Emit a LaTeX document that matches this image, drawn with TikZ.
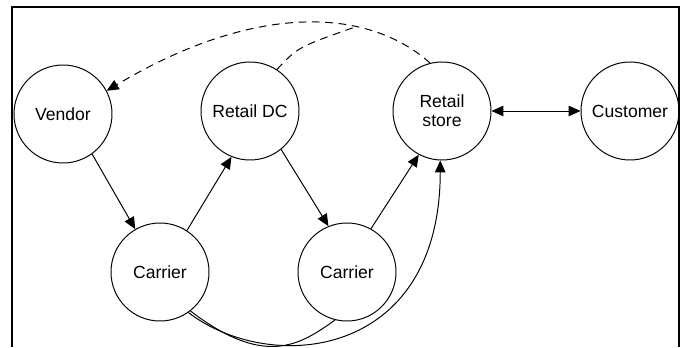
\documentclass[tikz,border=0pt]{standalone}
\usepackage{fontspec}
\setmainfont{Liberation Sans}
\usetikzlibrary{arrows.meta}

\begin{document}
\begin{tikzpicture}[>={Triangle[length=8.5pt,width=7.5pt]}, line width=0.7pt,
        place/.style={draw, circle, minimum size=2.45cm, inner sep=0pt, align=center,
            font=\fontsize{12.5pt}{13.5pt}\selectfont},
        info/.style={dash pattern=on 5.5pt off 4pt}]
        \useasboundingbox (0,0) rectangle (17.075,8.675);
        \clip (0,0) rectangle (17.075,8.675);
        \draw[line width=1.6pt] (0.3,0) -- (0.3,8.5) -- (16.975,8.5) -- (16.975,0);
        % top row
        \node[place] (vendor) at (1.575,5.825) {Vendor};
        \node[place] (retaildc) at (6.25,5.9) {Retail DC};
        \node[place] (store) at (11.05,5.9) {Retail\\store};
        \node[place] (customer) at (15.75,5.9) {Customer};
        % bottom row
        \node[place] (carrierA) at (4.0,1.875) {Carrier};
        \node[place] (carrierB) at (8.675,1.875) {Carrier};
        % goods
        \draw[->] (vendor.-54) -- (carrierA.120);
        \draw[->] (carrierA.57) -- (retaildc.-112);
        \draw[->] (retaildc.-51) -- (carrierB.112);
        \draw[->] (carrierB.61) -- (store.-118);
        \draw[<->] (store.east) -- (customer.west);
        \draw (carrierA.-52) .. controls (6.625,-0.525) and (7.5,0.05) .. (carrierB.-104);
        \draw[->] (carrierA.-55) .. controls (6.75,-0.7) and (11.0,-0.325) .. (store.-92);
        % orders
        \coordinate (merge) at (8.95,8.025);
        \draw[info, ->] (store.104) .. controls (9.125,8.55) and (6.25,8.55) .. (vendor.28);
        \draw[info] (retaildc.57) .. controls (7.45,7.5) .. (merge);
    \end{tikzpicture}
\end{document}
